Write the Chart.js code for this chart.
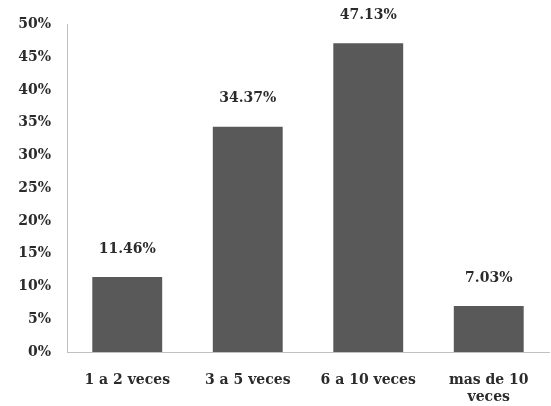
<!DOCTYPE html>
<html>
<head>
<meta charset="utf-8">
<script src="https://cdn.jsdelivr.net/npm/chart.js@4/dist/chart.umd.min.js"></script>
<style>
  html, body { margin: 0; padding: 0; background: #fff; overflow: hidden; }
  #wrap { width: 551px; height: 406px; }
</style>
</head>
<body>
<div id="wrap"><canvas id="c" width="551" height="406"></canvas></div>
<script>
// Frequency categories and their share of responses (%)
const categories = ['1 a 2 veces', '3 a 5 veces', '6 a 10 veces', ['mas de 10', 'veces']];
const shares = [11.46, 34.37, 47.13, 7.03];
const yTicks = [0, 5, 10, 15, 20, 25, 30, 35, 40, 45, 50];

const FONT = '"DejaVu Serif", "Liberation Serif", serif';
const TEXT = '#2b2b2b';

// Writes each bar's value above it
const valueLabels = {
  id: 'valueLabels',
  afterDatasetsDraw(chart) {
    const ctx = chart.ctx;
    const meta = chart.getDatasetMeta(0);
    ctx.save();
    ctx.font = 'bold 14px ' + FONT;
    ctx.fillStyle = TEXT;
    ctx.textAlign = 'center';
    ctx.textBaseline = 'middle';
    meta.data.forEach((bar, i) => {
      const v = chart.data.datasets[0].data[i];
      ctx.fillText(v.toFixed(2) + '%', bar.x, bar.y - 28);
    });
    ctx.restore();
  }
};

new Chart(document.getElementById('c'), {
  type: 'bar',
  data: {
    labels: categories,
    datasets: [{
      data: shares,
      backgroundColor: '#595959',
      borderWidth: 0,
      categoryPercentage: 1,
      barPercentage: 0.58
    }]
  },
  options: {
    responsive: false,
    animation: false,
    layout: { padding: { top: 19, right: 2, left: 0, bottom: 0 } },
    plugins: { legend: { display: false }, tooltip: { enabled: false } },
    scales: {
      x: {
        grid: { display: false, drawTicks: false },
        border: { color: '#c0c0c0', width: 1 },
        ticks: {
          color: TEXT,
          font: { family: FONT, size: 14, weight: 'bold' },
          padding: 20,
          maxRotation: 0,
          autoSkip: false
        },
        afterFit(scale) { scale.height = 54; }
      },
      y: {
        min: 0,
        max: 50,
        afterBuildTicks(scale) { scale.ticks = yTicks.map(v => ({ value: v })); },
        grid: { display: false, drawTicks: false },
        border: { color: '#c0c0c0', width: 1 },
        ticks: {
          color: TEXT,
          font: { family: FONT, size: 14, weight: 'bold' },
          padding: 16,
          callback: v => v + '%'
        },
        afterFit(scale) { scale.width = 67; }
      }
    }
  },
  plugins: [valueLabels]
});
</script>
</body>
</html>
